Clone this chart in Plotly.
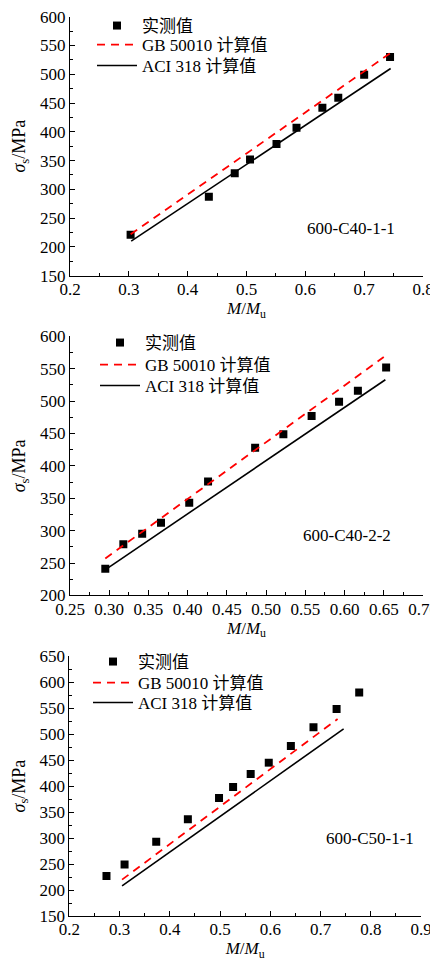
import plotly.graph_objects as go

# ---------- data ----------
# Panel 1: 600-C40-1-1
x1_meas = [0.303, 0.436, 0.480, 0.506, 0.551, 0.585, 0.629, 0.656, 0.700, 0.744]
y1_meas = [221, 287, 328, 352, 379, 407, 442, 459, 499, 530]
x1_gb = [0.303, 0.745]
y1_gb = [222, 537]
x1_aci = [0.304, 0.745]
y1_aci = [210, 510]

# Panel 2: 600-C40-2-2
x2_meas = [0.295, 0.318, 0.342, 0.366, 0.402, 0.426, 0.486, 0.522, 0.558, 0.593, 0.617, 0.653]
y2_meas = [241, 279, 295, 312, 343, 376, 428, 449, 477, 499, 516, 552]
x2_gb = [0.295, 0.650]
y2_gb = [257, 568]
x2_aci = [0.299, 0.652]
y2_aci = [243, 533]

# Panel 3: 600-C50-1-1
x3_meas = [0.274, 0.310, 0.373, 0.436, 0.498, 0.526, 0.561, 0.597, 0.641, 0.686, 0.732, 0.777]
y3_meas = [227, 249, 293, 336, 377, 398, 423, 445, 477, 513, 548, 580]
x3_gb = [0.305, 0.734]
y3_gb = [220, 529]
x3_aci = [0.305, 0.746]
y3_aci = [208, 510]

panel_labels = ["600-C40-1-1", "600-C40-2-2", "600-C50-1-1"]
name_meas = "实测值"
name_gb = "GB 50010 计算值"
name_aci = "ACI 318 计算值"

FONT = "Liberation Serif, Times New Roman, Noto Sans CJK SC, serif"
OFF = 8  # page body margin compensation
W, H = 438 - OFF, 960

fig = go.Figure()

panels = [
    (x1_meas, y1_meas, x1_gb, y1_gb, x1_aci, y1_aci),
    (x2_meas, y2_meas, x2_gb, y2_gb, x2_aci, y2_aci),
    (x3_meas, y3_meas, x3_gb, y3_gb, x3_aci, y3_aci),
]

# legend row centres (px) and legend left x (px) for each panel
legend_rows = [(25, 45, 66), (343, 365, 386), (662, 683, 703)]
legend_x = [92, 95, 88]

for i, (xm, ym, xg, yg, xa, ya) in enumerate(panels):
    sfx = "" if i == 0 else str(i + 1)
    legs = [f"legend{3 * i + k + 1}" if (3 * i + k) > 0 else "legend" for k in range(3)]
    fig.add_trace(go.Scatter(x=xm, y=ym, mode="markers", name=name_meas,
                             marker=dict(symbol="square", size=8, color="black"),
                             xaxis="x" + sfx, yaxis="y" + sfx, legend=legs[0]))
    fig.add_trace(go.Scatter(x=xg, y=yg, mode="lines", name=name_gb,
                             line=dict(color="red", width=1.8, dash="8px,6px"),
                             xaxis="x" + sfx, yaxis="y" + sfx, legend=legs[1]))
    fig.add_trace(go.Scatter(x=xa, y=ya, mode="lines", name=name_aci,
                             line=dict(color="black", width=1.6),
                             xaxis="x" + sfx, yaxis="y" + sfx, legend=legs[2]))

# plot areas in pixels (left, right, top, bottom)
areas = [(70, 423, 15.7, 275), (70, 423, 335.7, 595), (69.3, 421, 655.7, 916)]
xranges = [[0.2, 0.8], [0.25, 0.70], [0.2, 0.9]]
yranges = [[150, 600], [200, 600], [150, 650]]
xdt = [0.1, 0.05, 0.1]
xfmt = [".1f", ".2f", ".1f"]
label_pos = [(0.678, 232), (0.603, 293), (0.798, 300)]


def axis_common():
    return dict(showline=True, linecolor="black", linewidth=1, showgrid=False,
                zeroline=False, ticks="inside", ticklen=5, tickwidth=1, tickcolor="black",
                automargin=False, ticklabeloverflow="allow",
                tickfont=dict(family=FONT, size=17, color="black"), mirror=False)


layout = {}
for i in range(3):
    sfx = "" if i == 0 else str(i + 1)
    l, r, t, b = areas[i]
    l, r, t, b = l - OFF, r - OFF, t - OFF, b - OFF
    xa = axis_common()
    xa.update(domain=[l / W, r / W], range=xranges[i], dtick=xdt[i], tick0=0,
              tickformat=xfmt[i], anchor="y" + sfx, ticklabelstandoff=-2,
              minor=dict(ticks="inside", dtick=xdt[i] / 2, ticklen=3, tickcolor="black"),
              title=dict(text="<i>M</i>/<i>M</i><sub>u</sub>", standoff=0,
                         font=dict(family=FONT, size=17, color="black")))
    ya = axis_common()
    ya.update(domain=[1 - b / H, 1 - t / H], range=yranges[i], dtick=50, tick0=0,
              anchor="x" + sfx,
              minor=dict(ticks="inside", dtick=25, ticklen=3, tickcolor="black"),
              title=dict(text="<i>σ</i><sub>s</sub>/MPa", standoff=9,
                         font=dict(family=FONT, size=18, color="black")))
    layout["xaxis" + sfx] = xa
    layout["yaxis" + sfx] = ya
    for k in range(3):
        idx = 3 * i + k
        leg = "legend" if idx == 0 else f"legend{idx + 1}"
        layout[leg] = dict(x=(legend_x[i] - OFF) / W, y=1 - (legend_rows[i][k] - OFF) / H,
                           xanchor="left", yanchor="middle",
                           bgcolor="rgba(0,0,0,0)", borderwidth=0, itemwidth=40,
                           font=dict(family=FONT, size=17, color="black"))

fig.update_layout(**layout)

for i in range(3):
    sfx = "" if i == 0 else str(i + 1)
    fig.add_annotation(x=label_pos[i][0], y=label_pos[i][1], xref="x" + sfx, yref="y" + sfx,
                       text=panel_labels[i], showarrow=False,
                       font=dict(family=FONT, size=17, color="black"))

fig.update_layout(template="none", width=W, height=H, margin=dict(l=0, r=0, t=0, b=0),
                  plot_bgcolor="white", paper_bgcolor="white", showlegend=True)

fig.write_html("out.html")
